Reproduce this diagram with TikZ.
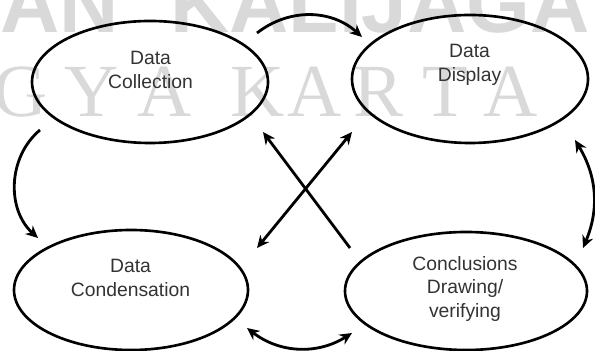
\documentclass[tikz,border=0pt]{standalone}
\usepackage{fontspec}
\setmainfont{Liberation Sans}
\newfontfamily\wmserif{Liberation Serif}
\usetikzlibrary{arrows.meta,shapes.geometric}
\tikzset{
  stage/.style={draw,ellipse,line width=1.5pt,inner sep=0pt,outer sep=0pt},
  stagetext/.style={align=center,text=black!80,inner sep=0pt,font=\fontsize{11}{13.5}\selectfont},
  tip/.tip={Stealth[length=7pt,width=6.5pt]},
  flow/.style={line width=1.6pt,-tip},
  flowboth/.style={line width=1.6pt,tip-tip},
  wmark/.style={text=black!15,inner sep=0pt},
}
\begin{document}
\begin{tikzpicture}
\useasboundingbox (0,0) rectangle (11.9,7.02);
% faint lettering in the background
\begin{scope}
\clip (0,0) rectangle (11.9,7.02);
\node[wmark,anchor=base west,font=\fontsize{46.7}{46.7}\selectfont\bfseries] (wmtop1) at (0,6.36) {AN};
\node[wmark,anchor=base west,font=\fontsize{46.7}{46.7}\selectfont\bfseries] (wmtop2) at (3.4,6.36) {KALIJAGA};
\foreach \l/\x [count=\i] in {G/0.42,Y/1.84,A/3.3,K/5.16,A/6.3,R/7.58,T/8.9,A/10.22}
  \node[wmark,anchor=base,font=\fontsize{42.7}{42.7}\selectfont\wmserif] (wmrow\i) at (\x,4.68) {\l};
\end{scope}
% the four stages
\node[stage,minimum width=4.72cm,minimum height=2.44cm] (collect) at (3.0,5.38) {};
\node[stage,minimum width=4.72cm,minimum height=2.56cm] (display) at (9.4,5.44) {};
\node[stage,minimum width=4.68cm,minimum height=2.4cm] (condense) at (2.62,1.22) {};
\node[stage,minimum width=4.84cm,minimum height=2.36cm] (conclude) at (9.32,1.2) {};
\node[stagetext] (collect-t) at (3.01,5.62) {Data\\Collection};
\node[stagetext] (display-t) at (9.39,5.72) {Data\\Display};
\node[stagetext] (condense-t) at (2.61,1.46) {Data\\Condensation};
\node[stagetext] (conclude-t) at (9.3,1.24) {Conclusions\\Drawing/\\verifying};
% arrow ends
\coordinate (top-a) at (5.14,6.36);
\coordinate (top-b) at (7.24,6.28);
\coordinate (right-a) at (11.5,4.22);
\coordinate (right-b) at (11.66,2.06);
\coordinate (bot-a) at (4.94,0.46);
\coordinate (bot-b) at (7.04,0.36);
\coordinate (left-a) at (0.8,4.42);
\coordinate (left-b) at (0.76,2.26);
\coordinate (cross-a) at (7.0,2.06);
\coordinate (cross-b) at (5.26,4.38);
\coordinate (cross-c) at (5.14,2.06);
\coordinate (cross-d) at (7.04,4.38);
% connectors
\draw[flow] (top-a) to[bend left=40] (top-b);
\draw[flowboth] (right-a) to[bend left=27] (right-b);
\draw[flowboth] (bot-a) to[bend right=35] (bot-b);
\draw[flow] (left-a) to[bend right=49] (left-b);
\draw[flow] (cross-a) -- (cross-b);
\draw[flowboth] (cross-c) -- (cross-d);
\end{tikzpicture}
\end{document}
